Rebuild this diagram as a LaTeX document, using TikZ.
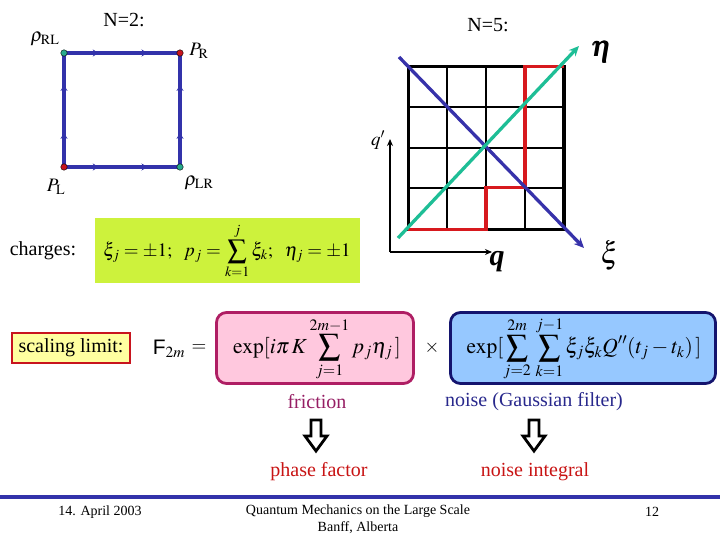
\documentclass[tikz,border=0pt]{standalone}
\usepackage{amsmath}
\usepackage{mathptmx}
\usepackage{fontspec}
\setmainfont{Liberation Serif}
\setsansfont{Liberation Sans}
\usetikzlibrary{arrows.meta,decorations.markings}
\definecolor{sqblue}{RGB}{50,50,170}
\definecolor{dotgreen}{RGB}{40,170,140}
\definecolor{dotred}{RGB}{200,20,30}
\definecolor{etagreen}{RGB}{30,190,150}
\definecolor{xiblue}{RGB}{55,50,170}
\definecolor{gridred}{RGB}{215,25,30}
\definecolor{lime}{RGB}{205,242,60}
\definecolor{pinkfill}{RGB}{255,200,222}
\definecolor{pinkedge}{RGB}{175,30,100}
\definecolor{bluefill}{RGB}{150,200,255}
\definecolor{blueedge}{RGB}{20,20,110}
\definecolor{yellowfill}{RGB}{255,255,160}
\definecolor{fricol}{RGB}{150,30,100}
\definecolor{noisecol}{RGB}{40,40,140}
\definecolor{resred}{RGB}{200,20,20}
\tikzset{
  txt/.style={inner sep=0pt,font=\fontsize{20}{24}\selectfont},
  mth/.style={inner sep=0pt,font=\fontsize{19}{23}\selectfont},
  bigmth/.style={inner sep=0pt,font=\fontsize{21.5}{25}\selectfont},
  foot/.style={inner sep=0pt,font=\fontsize{14}{16}\selectfont},
  corner/.style={circle,draw=black,line width=0.4pt,inner sep=0pt,minimum size=6.5pt},
  edge/.style={sqblue,line width=3.5pt,postaction={decorate},
    decoration={markings,mark=at position 0.3 with {\arrow[sqblue]{Stealth[length=6pt,width=7pt]}},
                mark=at position 0.72 with {\arrow[sqblue]{Stealth[length=6pt,width=7pt]}}}},
  hollow/.style={draw=black,fill=white,line width=2.8pt,line join=miter},
}
\begin{document}
\begin{tikzpicture}[x=1pt,y=-1pt]
\useasboundingbox (0,0) rectangle (720,540);
% ---------- N=2 ----------
\node[txt] (n2) at (124,20) {N=2:};
\draw[edge] (64,167) -- (64,53);
\draw[edge] (64,53) -- (180,53);
\draw[edge] (64,167) -- (180,167);
\draw[edge] (180,167) -- (180,53);
\node[corner,fill=dotgreen] (rl) at (64,53) {};
\node[corner,fill=dotred] (pr) at (180,53) {};
\node[corner,fill=dotred] (pl) at (64,167) {};
\node[corner,fill=dotgreen] (lr) at (180,167) {};
\node[mth] (rlt) at (45,39) {$\rho_{\mathrm{RL}}$};
\node[mth] (prt) at (199,51) {$P_{\mathrm{R}}$};
\node[mth] (plt) at (56,187) {$P_{\mathrm{L}}$};
\node[mth] (lrt) at (199,183) {$\rho_{\mathrm{LR}}$};
% ---------- N=5 ----------
\node[txt] (n5) at (488,25) {N=5:};
\foreach \x in {447.3,486,525} \draw[black,line width=2pt] (\x,66.7) -- (\x,229.3);
\foreach \y in {106.7,147.7,187.7} \draw[black,line width=2pt] (408.3,\y) -- (564,\y);
\draw[black,line width=3.3pt] (408.3,66.7) rectangle (564,229.3);
\draw[gridred,line width=3.3pt,line join=miter] (408.3,229.3) -- (486,229.3) -- (486,187.7) -- (525,187.7) -- (525,66.7) -- (564,66.7);
\draw[xiblue,line width=3.3pt,-{Stealth[length=10pt,width=9pt]}] (399,57) -- (584,248);
\draw[etagreen,line width=3.3pt,-{Stealth[length=10pt,width=9pt]}] (398,238) -- (579,46);
\draw[black,line width=1.6pt,-{Stealth[length=7pt,width=6pt]}] (390,252) -- (390,139);
\draw[black,line width=1.6pt,-{Stealth[length=7pt,width=6pt]}] (390,252) -- (492,252);
\node[mth] (qp) at (378,140) {$q'$};
\node[inner sep=0pt,font=\fontsize{30}{32}\selectfont\bfseries\itshape] (q) at (497,262) {q};
\node[inner sep=0pt,font=\fontsize{30}{32}\selectfont] (eta) at (602,52) {$\pmb{\eta}$};
\node[inner sep=0pt,font=\fontsize{30}{32}\selectfont] (xi) at (610,255) {$\xi$};
% ---------- charges ----------
\node[txt] (ch) at (43,251) {charges:};
\fill[lime] (95,218) rectangle (360,283);
\node[mth] (chf) at (227,251) {$\displaystyle\xi_j=\pm1;\ \ p_j=\sum_{k=1}^{j}\xi_k;\ \ \eta_j=\pm1$};
% ---------- scaling limit ----------
\node[txt,draw=dotred,fill=yellowfill,line width=2.8pt,minimum width=118pt,minimum height=30pt] (sl) at (71,348) {scaling limit:};
\node[inner sep=0pt,font=\fontsize{21}{24}\selectfont] (F) at (169,349) {$\textsf{F}_{2m}$};
\node[mth] (eq) at (199,348) {$=$};
\node[draw=pinkedge,fill=pinkfill,line width=2.8pt,rounded corners=10pt,minimum width=197pt,minimum height=71pt,inner sep=0pt] (pk) at (315,348) {};
\node[bigmth] (pkf) at (317,349) {$\displaystyle\exp[i\pi\,K\sum_{j=1}^{2m-1}p_j\eta_j\,]$};
\node[mth] (times) at (432,348) {$\times$};
\node[draw=blueedge,fill=bluefill,line width=2.8pt,rounded corners=10pt,minimum width=265pt,minimum height=71pt,inner sep=0pt] (bl) at (583,348) {};
\node[bigmth] (blf) at (584,349) {$\displaystyle\exp[\sum_{j=2}^{2m}\,\sum_{k=1}^{j-1}\xi_j\xi_kQ''(t_j-t_k)\,]$};
% ---------- labels ----------
\node[txt,text=fricol] (fr) at (317,402) {friction};
\node[txt,text=noisecol] (no) at (534,402) {noise (Gaussian filter)};
\draw[hollow] (311,420) -- (321,420) -- (321,436) -- (327,436) -- (316,451) -- (305,436) -- (311,436) -- cycle;
\draw[hollow] (529,420) -- (539,420) -- (539,436) -- (545,436) -- (534,451) -- (523,436) -- (529,436) -- cycle;
\node[txt,text=resred] (pf) at (319,472) {phase factor};
\node[txt,text=resred] (ni) at (535,472) {noise integral};
% ---------- footer ----------
\draw[sqblue,line width=4.5pt] (0,497) -- (720,497);
\node[foot] (date) at (100,512) {14. April 2003};
\node[foot] (conf) at (358,511) {Quantum Mechanics on the Large Scale};
\node[foot] (place) at (358,528) {Banff, Alberta};
\node[foot] (page) at (652,512) {12};
\end{tikzpicture}
\end{document}
